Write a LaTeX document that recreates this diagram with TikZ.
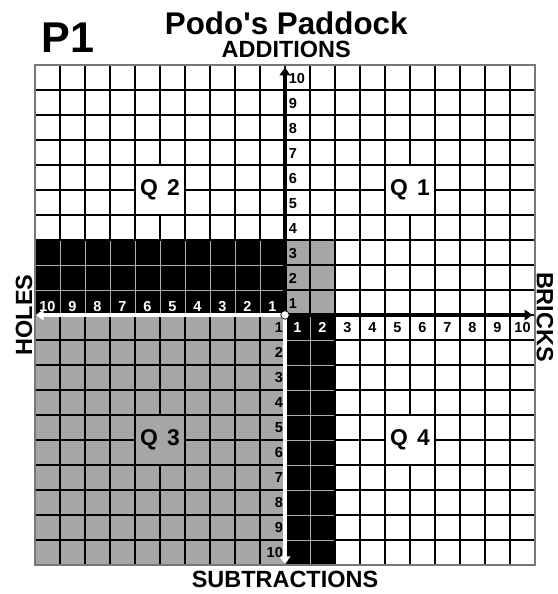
\documentclass[tikz,border=0pt]{standalone}
\usepackage{fontspec}
\newfontfamily\lib{Liberation Sans}
\usetikzlibrary{arrows.meta}
\definecolor{cellgray}{RGB}{166,166,166}
\definecolor{bordergray}{RGB}{120,120,120}
\definecolor{innergray}{RGB}{175,175,175}
\begin{document}
\begin{tikzpicture}[x=1cm,y=1cm,
  gridline/.style={line width=1.7pt, black},
  innerline/.style={line width=0.9pt, innergray},
  num/.style={font=\lib\bfseries\fontsize{16.5}{16.5}\selectfont, inner sep=0pt},
  axtitle/.style={font=\lib\bfseries\fontsize{26.7}{26.7}\selectfont, inner sep=0pt},
  qlab/.style={font=\lib\bfseries\fontsize{26}{26}\selectfont, inner sep=0pt},
  axisblack/.style={line width=3.8pt, black, -{Triangle[width=12pt,length=9pt]}},
  axiswhite/.style={line width=3.8pt, white, -{Triangle[width=12pt,length=9pt]}},
]
\useasboundingbox (-11.4,-11.16) rectangle (10.88,12.6);
% shaded regions
\fill[cellgray] (0,0) rectangle (2,3);
\fill[cellgray] (-10,-10) rectangle (0,0);
\fill[black] (-10,0) rectangle (0,3);
\fill[black] (0,-10) rectangle (2,0);
% grid
\draw[gridline] (-10,-10) grid (10,10);
\foreach \x in {-9,...,-1} \draw[innerline] (\x,0.03) -- (\x,2.97);
\foreach \y in {1,2} \draw[innerline] (-9.97,\y) -- (-0.03,\y);
\draw[innerline] (1,-9.97) -- (1,-0.03);
\foreach \y in {-9,...,-1} \draw[innerline] (0.03,\y) -- (1.97,\y);
\draw[line width=1.7pt, bordergray] (-10,-10) rectangle (10,10);
% quadrant label boxes (2x2 cells cleared inside)
\fill[white] (4.03,4.03) rectangle (5.97,5.97);
\fill[white] (-5.97,4.03) rectangle (-4.03,5.97);
\fill[cellgray] (-5.97,-5.97) rectangle (-4.03,-4.03);
\fill[white] (4.03,-5.97) rectangle (5.97,-4.03);
\node[qlab] (q1) at (5,5) {Q\hspace{0.4em}1};
\node[qlab] (q2) at (-5,5) {Q\hspace{0.4em}2};
\node[qlab] (q3) at (-5,-5) {Q\hspace{0.4em}3};
\node[qlab] (q4) at (5,-5) {Q\hspace{0.4em}4};
% axes
\coordinate (O) at (0,0);
\coordinate (Ypos) at (0,9.9);
\coordinate (Xpos) at (9.9,0);
\coordinate (Xneg) at (-9.97,0);
\coordinate (Yneg) at (0,-9.97);
\draw[axiswhite] (O) -- (Xneg);
\draw[axiswhite] (O) -- (Yneg);
\draw[axisblack] (O) -- (Ypos);
\draw[axisblack] (O) -- (Xpos);
\node[circle, draw=black, fill=white, line width=0.8pt, minimum size=0.34cm, inner sep=0pt] (orig) at (O) {};
% axis numbers
\foreach \k in {1,...,10} \node[num, anchor=west] (yp\k) at (0.15,\k-0.55) {\k};
\foreach \k in {1,...,10} \node[num, anchor=east] (yn\k) at (-0.08,-\k+0.5) {\k};
\foreach \k in {1,2} \node[num, text=white] (xp\k) at (\k-0.5,-0.5) {\k};
\foreach \k in {3,...,10} \node[num] (xp\k) at (\k-0.5,-0.5) {\k};
\foreach \k in {1,...,10} \node[num, text=white] (xn\k) at (-\k+0.5,0.35) {\k};
% titles
\node[font=\lib\bfseries\fontsize{49}{49}\selectfont, inner sep=0pt, anchor=base west] (p1) at (-9.75,10.5) {P1};
\node[font=\lib\bfseries\fontsize{35.7}{35.7}\selectfont, inner sep=0pt, anchor=base] (title) at (0.05,11.2) {Podo's Paddock};
\node[axtitle, anchor=base] (add) at (0.05,10.28) {ADDITIONS};
\node[axtitle, anchor=base] (sub) at (0,-10.88) {SUBTRACTIONS};
\node[axtitle, rotate=90] (holes) at (-10.44,0) {HOLES};
\node[axtitle, rotate=-90] (bricks) at (10.4,-0.08) {BRICKS};
\end{tikzpicture}
\end{document}
